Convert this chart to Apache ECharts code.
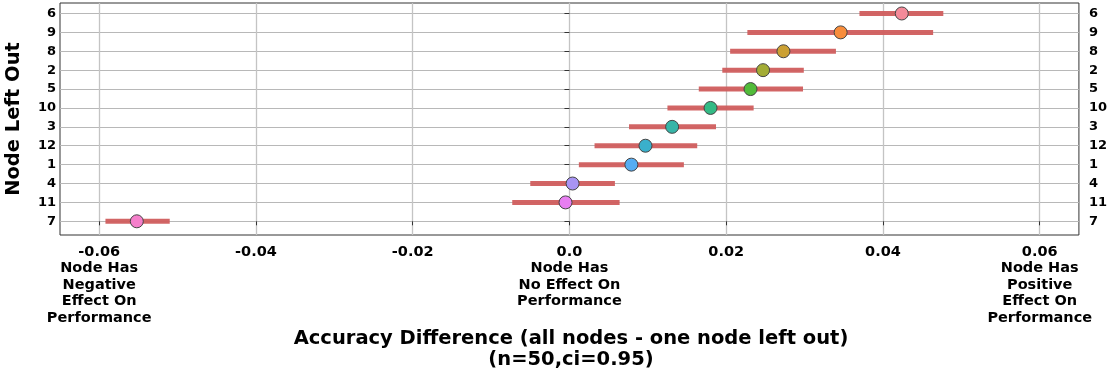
<!DOCTYPE html>
<html>
<head>
<meta charset="utf-8">
<script src="https://cdn.jsdelivr.net/npm/echarts@6/dist/echarts.min.js"></script>
<style>html,body{margin:0;padding:0;background:#fff}#c{width:1110px;height:374px}</style>
</head>
<body>
<div id="c"></div>
<script>
// rows from bottom to top
const nodes = ['7', '11', '4', '1', '12', '3', '10', '5', '2', '8', '9', '6'];
const means = [-0.0552, -0.0005, 0.0004, 0.0079, 0.0097, 0.0131, 0.0180, 0.0231, 0.0247, 0.0273, 0.0346, 0.0424];
const ciLow = [-0.0592, -0.0073, -0.0050, 0.0012, 0.0032, 0.0076, 0.0125, 0.0165, 0.0195, 0.0205, 0.0227, 0.0370];
const ciHigh = [-0.0510, 0.0064, 0.0058, 0.0146, 0.0163, 0.0187, 0.0235, 0.0298, 0.0299, 0.0340, 0.0464, 0.0477];
const pointColors = ['#f57fcb', '#e77ef1', '#a894f4', '#56acf2', '#3ab0cb', '#37b5a8', '#34ba85', '#52bb3a', '#a3ac35', '#cba033', '#f88d3c', '#f48a99'];
const xTicks = [-0.06, -0.04, -0.02, 0.0, 0.02, 0.04, 0.06];
const xTickText = ['-0.06', '-0.04', '-0.02', '0.0', '0.02', '0.04', '0.06'];
const xTickNotes = {
  '-0.06': 'Node Has\nNegative\nEffect On\nPerformance',
  '0.0': 'Node Has\nNo Effect On\nPerformance',
  '0.06': 'Node Has\nPositive\nEffect On\nPerformance'
};
const xTitleLines = ['Accuracy Difference (all nodes - one node left out)', '(n=50,ci=0.95)'];
const yTitle = 'Node Left Out';

const rowIdx = nodes.map((_, i) => i);
const FONT = '"DejaVu Sans", sans-serif';

const chart = echarts.init(document.getElementById('c'), null, {renderer: 'canvas'});

function xLabel(v) {
  let k = -1;
  for (let i = 0; i < xTicks.length; i++) if (Math.abs(xTicks[i] - v) < 1e-9) k = i;
  if (k < 0) return '';
  const t = xTickText[k];
  return xTickNotes[t] ? t + '\n' + xTickNotes[t] : t;
}

const yAxisBase = {
  type: 'value',
  min: -0.725,
  max: 11.555,
  axisLine: {show: false},
  splitLine: {show: false},
  axisLabel: {
    customValues: rowIdx,
    formatter: v => nodes[Math.round(v)] || '',
    color: '#000', fontFamily: FONT, fontWeight: 'bold', fontSize: 13
  }
};

const titleStyle = {font: 'bold 19.5px ' + FONT, fill: '#000', align: 'center', textAlign: 'center', verticalAlign: 'middle', textVerticalAlign: 'middle'};

chart.setOption({
  animation: false,
  grid: {left: 60, right: 27, top: 3, bottom: 139, show: true, borderColor: '#333', borderWidth: 1, backgroundColor: 'transparent'},
  xAxis: {
    type: 'value',
    min: -0.065,
    max: 0.065,
    axisLine: {show: false},
    axisTick: {show: true, customValues: xTicks, length: 4, lineStyle: {color: '#333'}},
    splitLine: {show: true, lineStyle: {color: '#c4c4c4', width: 1.3}},
    axisLabel: {
      customValues: xTicks,
      formatter: xLabel,
      color: '#000', fontFamily: FONT, fontWeight: 'bold', fontSize: 14.5, lineHeight: 16.5,
      margin: 8.5, align: 'center'
    }
  },
  yAxis: [
    Object.assign({}, yAxisBase, {
      position: 'left',
      axisTick: {show: true, customValues: rowIdx, length: 5, lineStyle: {color: '#333'}},
      splitLine: {show: true, lineStyle: {color: '#b8b8b8', width: 1}},
      axisLabel: Object.assign({}, yAxisBase.axisLabel, {margin: 4})
    }),
    Object.assign({}, yAxisBase, {
      position: 'right',
      axisTick: {show: false},
      axisLabel: Object.assign({}, yAxisBase.axisLabel, {margin: 10, align: 'left'})
    })
  ],
  graphic: [
    {type: 'text', x: 571, y: 339, style: Object.assign({text: xTitleLines[0]}, titleStyle)},
    {type: 'text', x: 571, y: 359.5, style: Object.assign({text: xTitleLines[1]}, titleStyle)},
    {type: 'text', x: 14, y: 119, rotation: Math.PI / 2, style: Object.assign({text: yTitle}, titleStyle)}
  ],
  series: [
    {
      type: 'custom',
      xAxisIndex: 0, yAxisIndex: 0,
      data: rowIdx.map(i => [ciLow[i], ciHigh[i], i]),
      renderItem: function (params, api) {
        const a = api.coord([api.value(0), api.value(2)]);
        const b = api.coord([api.value(1), api.value(2)]);
        return {type: 'line', shape: {x1: a[0], y1: a[1], x2: b[0], y2: b[1]}, style: {stroke: '#d05d5d', lineWidth: 5, opacity: 0.95}};
      },
      z: 3
    },
    {
      type: 'scatter',
      xAxisIndex: 0, yAxisIndex: 0,
      symbol: 'circle',
      symbolSize: 13,
      data: rowIdx.map(i => ({value: [means[i], i], itemStyle: {color: pointColors[i]}})),
      itemStyle: {borderColor: '#444', borderWidth: 1, opacity: 1},
      z: 4
    }
  ]
});
</script>
</body>
</html>
